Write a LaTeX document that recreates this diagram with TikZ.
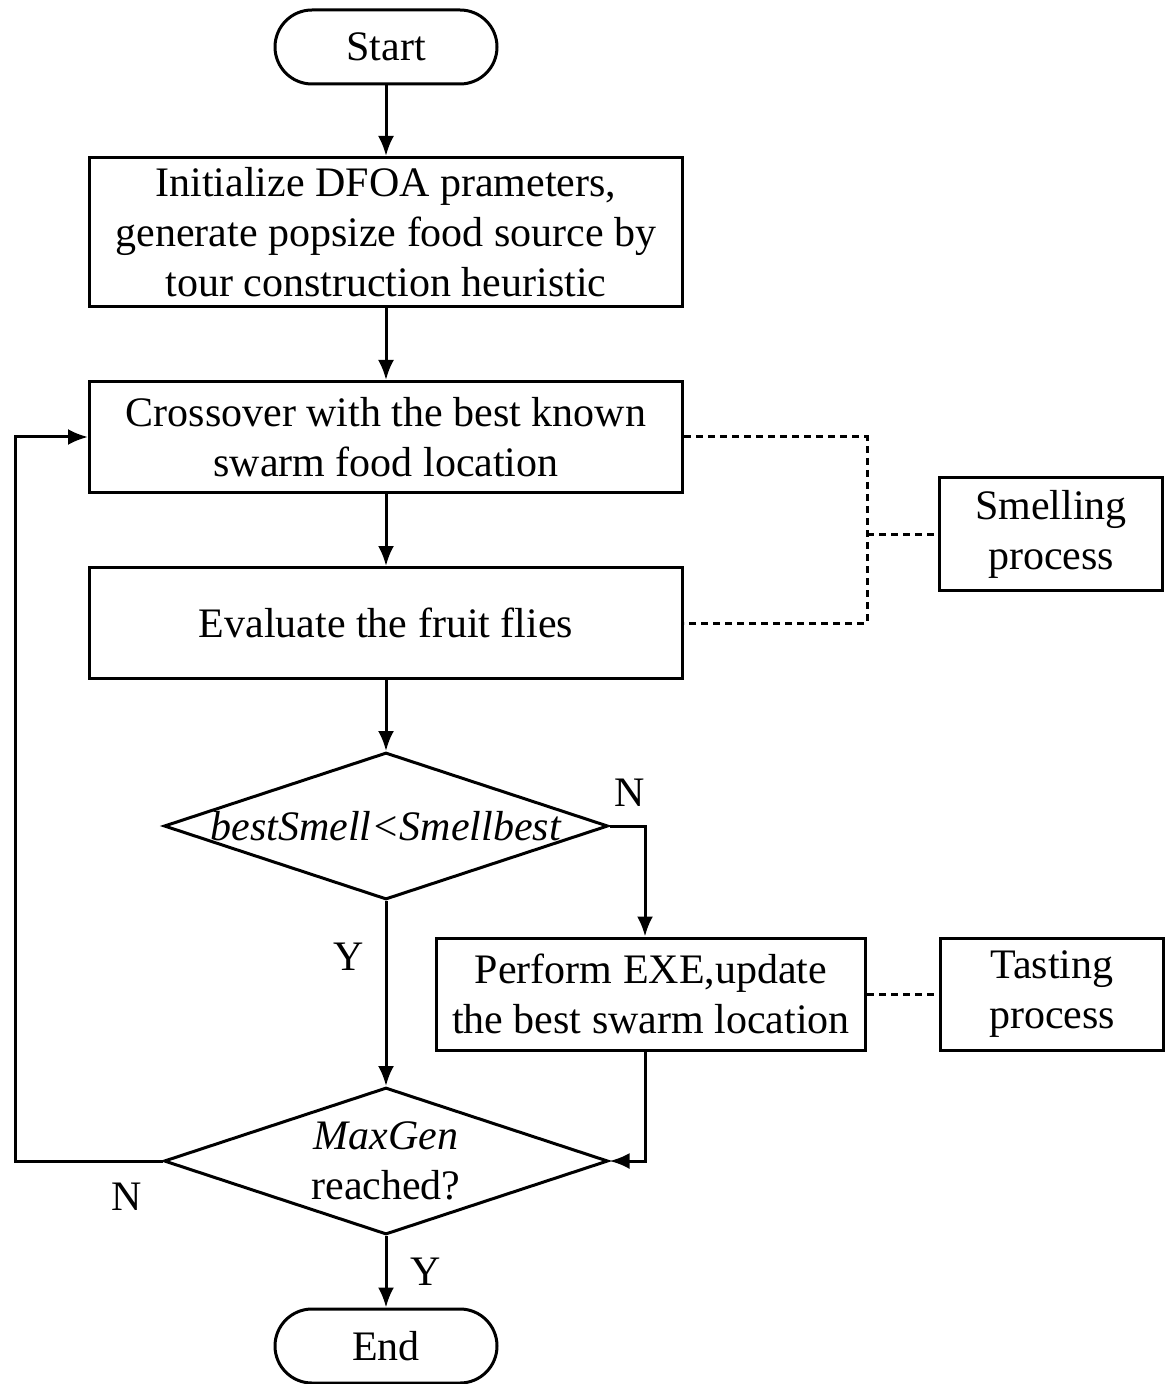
\documentclass[tikz,border=0pt]{standalone}
\usepackage{fontspec}
\setmainfont{Liberation Serif}
\usetikzlibrary{shapes.geometric, positioning, arrows.meta}

\tikzset{
  procbox/.style={draw, line width=1.5pt, rectangle, minimum height=55.5pt,
    minimum width=296.5pt, align=center, inner sep=2pt},
  sidebox/.style={procbox, minimum width=111.5pt, minimum height=56pt},
  termbox/.style={draw, line width=1.5pt, rectangle, rounded corners=18.5pt,
    minimum width=111pt, minimum height=37pt},
  decide/.style={draw, line width=1.5pt, diamond, aspect=3.02, inner sep=0pt,
    minimum width=222pt, minimum height=73.5pt, align=center},
  flow/.style={-{Latex[length=10pt,width=8pt]}, line width=1.5pt},
  dotline/.style={line width=1.5pt, dash pattern=on 3.5pt off 2.5pt},
}

\begin{document}
\begin{tikzpicture}[x=0.5pt, y=-0.5pt, font=\fontsize{21}{25}\selectfont]
  \useasboundingbox (0,0) rectangle (1168,1384);

  % Main column of the flow chart.
  \node[termbox] (start) at (386,47) {Start};
  \node[procbox, minimum height=74.5pt] (init) at (386,232)
    {Initialize DFOA prameters,\\ generate popsize food source by\\
     tour construction heuristic};
  \node[procbox] (cross) at (386,437)
    {Crossover with the best known\\ swarm food location};
  \node[procbox] (eval) at (386,623) {Evaluate the fruit flies};
  \node[decide] (d1) at (386,826) {\textit{bestSmell<Smellbest}};
  \node[decide] (d2) at (386,1161) {\textit{MaxGen}\\ reached?};
  \node[termbox] (end) at (386,1346) {End};

  % Side branch and the two process boxes.
  \node[procbox, minimum width=214.5pt, minimum height=56pt] (exe) at (651,994)
    {Perform EXE,update\\ the best swarm location};
  \node[sidebox, right=36pt of exe] (taste) {Tasting\\ process};
  \node[sidebox] (smell) at (1051,534) {Smelling\\ process};

  % Helper points.
  \coordinate (j1) at (exe.east |- cross.east);
  \coordinate (j2) at (exe.east |- eval.east);
  \coordinate (nturn) at (645,826);
  \coordinate (back) at (15,1161);

  % Arrows.
  \draw[flow] (start) -- (init);
  \draw[flow] (init) -- (cross);
  \draw[flow] (cross) -- (eval);
  \draw[flow] (eval) -- (d1);
  \draw[flow] (d1.south) -- node[left=7pt, pos=0.3] {Y} (d2.north);
  \draw[flow] (d1.east) -- (nturn) -- (nturn |- exe.north);
  \draw[flow] (exe.south -| nturn) |- (d2.east);
  \draw[flow] (d2.west) -- (back) |- (cross.west);
  \draw[flow] (d2.south) -- node[right=8pt] {Y} (end.north);
  \node at (630,793) {N};
  \node at (127,1197) {N};

  % Dotted links to the process boxes.
  \draw[dotline] (cross.east) -- (j1) -- (j2) -- (eval.east);
  \draw[dotline] (smell.west -| j1) -- (smell.west);
  \draw[dotline] (exe.east) -- (taste.west);
\end{tikzpicture}
\end{document}
